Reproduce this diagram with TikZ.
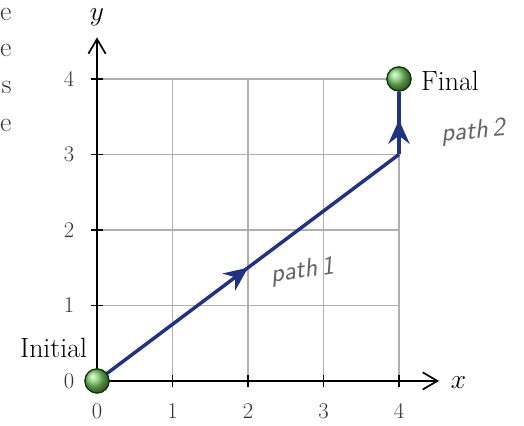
\documentclass[tikz,border=0pt]{standalone}
\usetikzlibrary{arrows.meta,decorations.markings,shapes.geometric}
\definecolor{pathblue}{RGB}{32,50,128}
\definecolor{gridgray}{RGB}{175,175,175}
\definecolor{handgray}{RGB}{100,100,100}
\definecolor{ballgreen}{RGB}{125,205,105}
\tikzset{
  gridline/.style={gridgray, line width=0.9pt},
  axisline/.style={black, line width=1.3pt, -{Straight Barb[length=11pt,width=13pt,line width=1.3pt]}},
  tickline/.style={black, line width=1.2pt},
  ticklabel/.style={font=\fontsize{17}{20}\selectfont, text=black!80},
  bigtext/.style={font=\fontsize{21}{25}\selectfont},
  ballnode/.style={circle, minimum size=0.64cm, inner sep=0pt, shading=ball, ball color=ballgreen, draw=black!50!green!40!black, line width=0.8pt},
  pathline/.style={pathblue, line width=2.6pt},
  midarrow/.style={postaction={decorate}, decoration={markings, mark=at position #1 with {\arrow{Stealth[length=18pt,width=16pt,inset=6pt]}}}},
  handtext/.style={font=\fontsize{20}{24}\selectfont\sffamily\itshape, text=handgray}
}
\begin{document}
\begin{tikzpicture}[x=2cm,y=2cm]
\useasboundingbox (-1.285,-0.596) rectangle (5.656,5.046);
% left text fragments
\node[bigtext, anchor=east, text=black!80] (fa) at (-1.07,4.85) {e};
\node[bigtext, anchor=east, text=black!80] (fb) at (-1.07,4.38) {e};
\node[bigtext, anchor=east, text=black!80] (fc) at (-1.07,3.89) {s};
\node[bigtext, anchor=east, text=black!80] (fd) at (-1.07,3.39) {e};
% grid
\foreach \i in {1,2,3,4} {
  \draw[gridline] (\i,0) -- (\i,4);
  \draw[gridline] (0,\i) -- (4,\i);
}
% axes
\coordinate (o) at (0,0);
\coordinate (xend) at (4.53,0);
\coordinate (yend) at (0,4.55);
\draw[axisline] (o) -- (xend);
\draw[axisline] (o) -- (yend);
\node[bigtext] (xlab) at (4.79,-0.02) {$x$};
\node[bigtext] (ylab) at (0,4.82) {$y$};
% ticks and labels
\foreach \i in {1,2,3,4} {
  \draw[tickline] (\i,-0.085) -- (\i,0.085);
  \draw[tickline] (-0.085,\i) -- (0.085,\i);
  \node[ticklabel] (xt\i) at (\i,-0.4) {\i};
  \node[ticklabel] (yt\i) at (-0.37,\i) {\i};
}
\node[ticklabel] (xt0) at (0,-0.4) {0};
\node[ticklabel] (yt0) at (-0.37,0) {0};
% paths
\coordinate (corner) at (4,3);
\node[ballnode] (init) at (0,0) {};
\node[ballnode] (final) at (4,4) {};
\draw[pathline, midarrow=0.5] (init.center) -- (corner);
\draw[pathline, midarrow=0.55, line join=round] (corner) -- (final.south);
\node[ballnode] at (0,0) {};
\node[ballnode] at (4,4) {};
% labels
\node[bigtext, anchor=east] (initlab) at (-0.07,0.44) {Initial};
\node[bigtext, anchor=west] (finallab) at (4.23,3.97) {Final};
\node[handtext, rotate=8] (p1) at (2.72,1.45) {path\,1};
\node[handtext, rotate=5] (p2) at (4.98,3.3) {path\,2};
\end{tikzpicture}
\end{document}
